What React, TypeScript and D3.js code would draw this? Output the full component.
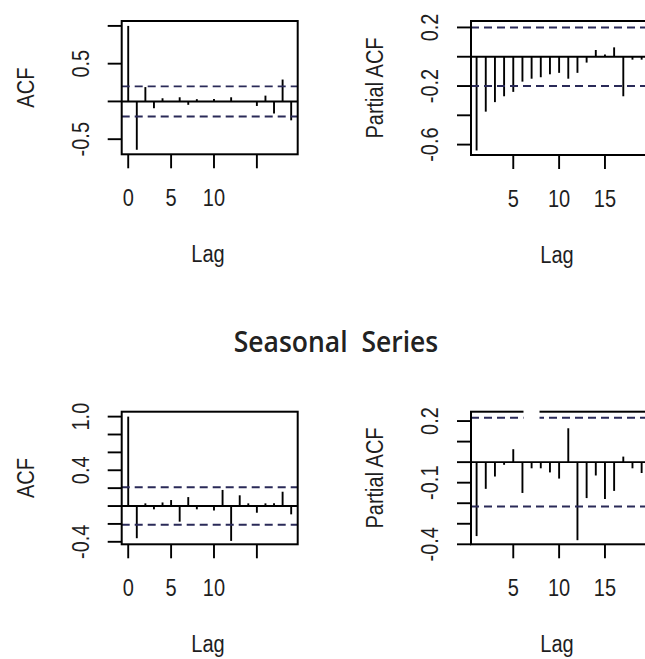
import React from "react";
import * as d3 from "d3";

// ---------- data ----------
const topAcfLags = [0, 1, 2, 3, 4, 5, 6, 7, 8, 9, 10, 11, 12, 13, 14, 15, 16, 17, 18, 19];
const topAcfValues = [1.0, -0.64, 0.19, -0.09, 0.042, 0.005, 0.055, -0.045, 0.03, 0.004, 0.033, 0.004, 0.055, 0.003, 0.003, -0.06, 0.077, -0.16, 0.29, -0.25];

const topPacfLags = [1, 2, 3, 4, 5, 6, 7, 8, 9, 10, 11, 12, 13, 14, 15, 16, 17, 18, 19];
const topPacfValues = [-0.64, -0.375, -0.31, -0.27, -0.24, -0.17, -0.15, -0.14, -0.12, -0.11, -0.15, -0.11, -0.04, 0.046, 0.016, 0.064, -0.27, -0.02, -0.02];

const bottomAcfLags = [0, 1, 2, 3, 4, 5, 6, 7, 8, 9, 10, 11, 12, 13, 14, 15, 16, 17, 18, 19];
const bottomAcfValues = [1.0, -0.36, 0.03, -0.037, 0.04, 0.067, -0.175, 0.1, -0.037, 0.004, -0.05, 0.18, -0.39, 0.12, 0.03, -0.075, 0.03, 0.03, 0.16, -0.093];

const bottomPacfLags = [1, 2, 3, 4, 5, 6, 7, 8, 9, 10, 11, 12, 13, 14, 15, 16, 17, 18, 19];
const bottomPacfValues = [-0.36, -0.13, -0.07, -0.013, 0.063, -0.15, -0.03, -0.03, -0.05, -0.08, 0.165, -0.38, -0.175, -0.065, -0.18, -0.14, 0.027, -0.03, -0.053];

const topCi = 0.2;
const bottomCi = 0.21;
const bottomPacfCi = 0.216;

const acfXTicks = [0, 5, 10, 15];
const acfXTickLabels = ["0", "5", "10", ""];
const pacfXTicks = [5, 10, 15];
const pacfXTickLabels = ["5", "10", "15"];

const topAcfYTicks = [-0.5, 0, 0.5, 1.0];
const topAcfYTickLabels = ["-0.5", "", "0.5", ""];
const topPacfYTicks = [-0.6, -0.4, -0.2, 0, 0.2];
const topPacfYTickLabels = ["-0.6", "", "-0.2", "", "0.2"];
const bottomAcfYTicks = [-0.4, -0.2, 0, 0.2, 0.4, 0.6, 0.8, 1.0];
const bottomAcfYTickLabels = ["-0.4", "", "", "", "0.4", "", "", "1.0"];
const bottomPacfYTicks = [-0.4, -0.3, -0.2, -0.1, 0, 0.1, 0.2];
const bottomPacfYTickLabels = ["-0.4", "", "", "-0.1", "", "", "0.2"];

const xTitle = "Lag";
const acfTitle = "ACF";
const pacfTitle = "Partial ACF";
const mainTitle = "Seasonal  Series";

// ---------- drawing ----------
const FONT = "'Liberation Sans', Arial, sans-serif";
const CI_COLOR = "#2a2a58";
const TXT = "#1e1e1e";
const FS = 20;
const STRETCH = 1.15;
const LW = 1.9;

function HText({ x, y, children }: { x: number; y: number; children: React.ReactNode }) {
  return (
    <text transform={`translate(${x},${y}) scale(1,${STRETCH})`} textAnchor="middle" fontFamily={FONT} fontSize={FS} fill={TXT}>
      {children}
    </text>
  );
}

function VText({ x, y, children }: { x: number; y: number; children: React.ReactNode }) {
  return (
    <text transform={`translate(${x},${y}) scale(${STRETCH},1) rotate(-90)`} textAnchor="middle" fontFamily={FONT} fontSize={FS} fill={TXT}>
      {children}
    </text>
  );
}

type PanelProps = {
  left: number; right: number; top: number; bottom: number;
  xDomain: [number, number]; yDomain: [number, number];
  lags: number[]; values: number[]; ci: number;
  xTicks: number[]; xTickLabels: string[];
  yTicks: number[]; yTickLabels: string[];
  yTitle: string; lagX: number;
};

function Panel(p: PanelProps) {
  const x = d3.scaleLinear().domain(p.xDomain).range([p.left, p.right]);
  const y = d3.scaleLinear().domain(p.yDomain).range([p.bottom, p.top]);
  const tick = 14;
  const cy = (p.top + p.bottom) / 2;
  return (
    <g>
      <line x1={p.left} x2={p.right} y1={y(0)} y2={y(0)} stroke="#000" strokeWidth={LW} />
      {p.lags.map((l, i) => (
        <line key={"s" + i} x1={x(l)} x2={x(l)} y1={y(0)} y2={y(p.values[i])} stroke="#000" strokeWidth={LW} />
      ))}
      {[p.ci, -p.ci].map((c, i) => (
        <line key={"c" + i} x1={p.left} x2={p.right} y1={y(c)} y2={y(c)} stroke={CI_COLOR} strokeWidth={LW} strokeDasharray="8,5" />
      ))}
      <rect x={p.left} y={p.top} width={p.right - p.left} height={p.bottom - p.top} fill="none" stroke="#000" strokeWidth={2} />
      {p.yTicks.map((t, i) => (
        <g key={"yt" + i}>
          <line x1={p.left - tick} x2={p.left} y1={y(t)} y2={y(t)} stroke="#000" strokeWidth={LW} />
          {p.yTickLabels[i] && <VText x={p.left - 33} y={y(t)}>{p.yTickLabels[i]}</VText>}
        </g>
      ))}
      {p.xTicks.map((t, i) => (
        <g key={"xt" + i}>
          <line x1={x(t)} x2={x(t)} y1={p.bottom} y2={p.bottom + tick} stroke="#000" strokeWidth={LW} />
          {p.xTickLabels[i] && <HText x={x(t)} y={p.bottom + 52}>{p.xTickLabels[i]}</HText>}
        </g>
      ))}
      <HText x={p.lagX} y={p.bottom + 108}>{xTitle}</HText>
      <VText x={p.left - 88} y={cy}>{p.yTitle}</VText>
    </g>
  );
}

export default function App() {
  return (
    <svg width={645} height={659} style={{ position: "absolute", left: 0, top: 0, background: "#fff" }}>
      <rect x={0} y={0} width={645} height={659} fill="#fff" />
      <Panel left={121.7} right={297.7} top={21} bottom={154.3}
        xDomain={[-0.76, 19.76]} yDomain={[-0.70, 1.065]}
        lags={topAcfLags} values={topAcfValues} ci={topCi}
        xTicks={acfXTicks} xTickLabels={acfXTickLabels}
        yTicks={topAcfYTicks} yTickLabels={topAcfYTickLabels} yTitle={acfTitle} lagX={208} />
      <Panel left={471} right={656.4} top={21} bottom={155}
        xDomain={[0.39, 20.61]} yDomain={[-0.671, 0.244]}
        lags={topPacfLags} values={topPacfValues} ci={topCi}
        xTicks={pacfXTicks} xTickLabels={pacfXTickLabels}
        yTicks={topPacfYTicks} yTickLabels={topPacfYTickLabels} yTitle={pacfTitle} lagX={557} />
      <text transform={`translate(336,351.5) scale(1,1.08)`} textAnchor="middle" fontFamily="'Open Sans', sans-serif" fontWeight={600} fontSize={26.5} fill="#222" style={{ whiteSpace: "pre" }}>
        {mainTitle}
      </text>
      <Panel left={121.7} right={297.7} top={411.7} bottom={544.3}
        xDomain={[-0.76, 19.76]} yDomain={[-0.428, 1.055]}
        lags={bottomAcfLags} values={bottomAcfValues} ci={bottomCi}
        xTicks={acfXTicks} xTickLabels={acfXTickLabels}
        yTicks={bottomAcfYTicks} yTickLabels={bottomAcfYTickLabels} yTitle={acfTitle} lagX={208} />
      <Panel left={471} right={656.4} top={411.7} bottom={544.3}
        xDomain={[0.39, 20.61]} yDomain={[-0.40, 0.2456]}
        lags={bottomPacfLags} values={bottomPacfValues} ci={bottomPacfCi}
        xTicks={pacfXTicks} xTickLabels={pacfXTickLabels}
        yTicks={bottomPacfYTicks} yTickLabels={bottomPacfYTickLabels} yTitle={pacfTitle} lagX={557} />
      <rect x={523.5} y={405} width={16} height={16} fill="#fff" />
    </svg>
  );
}
